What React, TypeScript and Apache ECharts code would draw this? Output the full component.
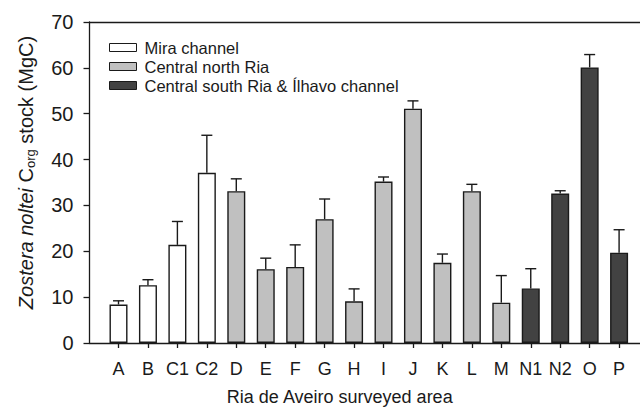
import React, { useEffect, useRef } from "react";
import * as echarts from "echarts";

const categories = ["A", "B", "C1", "C2", "D", "E", "F", "G", "H", "I", "J", "K", "L", "M", "N1", "N2", "O", "P"];
const groupOf = [0, 0, 0, 0, 1, 1, 1, 1, 1, 1, 1, 1, 1, 1, 2, 2, 2, 2];
const values = [8.4, 12.6, 21.4, 37.1, 33.1, 16.1, 16.6, 27.0, 9.1, 35.2, 51.1, 17.5, 33.1, 8.8, 11.9, 32.6, 60.1, 19.7];
const errors = [0.8, 1.2, 5.1, 8.2, 2.7, 2.4, 4.8, 4.4, 2.7, 1.0, 1.7, 1.9, 1.5, 5.9, 4.3, 0.6, 2.8, 5.0];
const groupNames = ["Mira channel", "Central north Ria", "Central south Ria & Ílhavo channel"];
const groupColors = ["#ffffff", "#c0c0c0", "#424242"];
const yTicks = [0, 10, 20, 30, 40, 50, 60, 70];

const FONT = "'Liberation Sans', Arial, sans-serif";
const INK = "#1a1a1a";

export default function App() {
  const ref = useRef<HTMLDivElement>(null);
  useEffect(() => {
    if (!ref.current) return;
    const chart = echarts.init(ref.current, null, { renderer: "svg" });
    const idx = categories.map((_, i) => i);
    const barSeries = groupNames.map((name, g) => ({
      name,
      type: "bar",
      barWidth: 18,
      barGap: "-100%",
      itemStyle: { color: groupColors[g], borderColor: INK, borderWidth: 1.4 },
      data: idx.filter((i) => groupOf[i] === g).map((i) => [i, values[i]]),
      z: 2,
    }));
    const option = {
      animation: false,
      backgroundColor: "#ffffff",
      textStyle: { fontFamily: FONT },
      grid: { left: 89.5, right: 0, top: 22, bottom: 70, containLabel: false },
      legend: {
        orient: "vertical",
        left: 104,
        top: 34,
        itemWidth: 27,
        itemHeight: 8,
        itemGap: 2,
        icon: "rect",
        data: groupNames,
        itemStyle: { borderColor: INK, borderWidth: 1 },
        textStyle: { fontFamily: FONT, fontSize: 16.5, color: INK, padding: [0, 0, 0, 3] },
      },
      xAxis: [
        {
          type: "value",
          min: -0.985,
          max: 17.71,
          position: "bottom",
          splitLine: { show: false },
          axisLine: { show: true, onZero: false, lineStyle: { color: INK, width: 1.3 } },
          axisTick: { show: true, inside: false, length: 5, customValues: idx, lineStyle: { color: INK, width: 1.3 } },
          axisLabel: {
            show: true,
            customValues: idx,
            formatter: (v: number) => categories[Math.round(v)] ?? "",
            fontFamily: FONT,
            fontSize: 18,
            color: INK,
            margin: 17,
          },
          name: "Ria de Aveiro surveyed area",
          nameLocation: "middle",
          nameGap: 45,
          nameTextStyle: { fontFamily: FONT, fontSize: 18, color: INK, padding: [0, 50, 0, 0] },
        },
        {
          type: "value",
          min: -0.985,
          max: 17.71,
          position: "top",
          splitLine: { show: false },
          axisLine: { show: true, onZero: false, lineStyle: { color: INK, width: 1.3 } },
          axisTick: { show: false },
          axisLabel: { show: false },
        },
      ],
      yAxis: {
        type: "value",
        min: 0,
        max: 70,
        interval: 10,
        splitLine: { show: false },
        axisLine: { show: true, onZero: false, lineStyle: { color: INK, width: 1.3 } },
        axisTick: { show: true, inside: false, length: 6, lineStyle: { color: INK, width: 1.3 } },
        axisLabel: {
          fontFamily: FONT,
          fontSize: 20,
          color: INK,
          margin: 16,
          customValues: yTicks,
        },
        name: "{i|Zostera noltei} C{sub|org} stock (MgC)",
        nameLocation: "middle",
        nameGap: 53,
        nameTextStyle: {
          fontFamily: FONT,
          fontSize: 20,
          color: INK,
          padding: [0, 0, 0, 20],
          rich: {
            i: { fontFamily: FONT, fontSize: 20, fontStyle: "italic", color: INK },
            sub: { fontFamily: FONT, fontSize: 13, color: INK, verticalAlign: "bottom", padding: [8, 0, 0, 0] },
          },
        },
      },
      series: [
        ...barSeries,
        {
          name: "error",
          type: "custom",
          z: 3,
          data: idx.map((i) => [i, values[i], values[i] + errors[i]]),
          renderItem: (_params: any, api: any) => {
            const x = api.value(0);
            const top = api.coord([x, api.value(1)]);
            const hi = api.coord([x, api.value(2)]);
            const half = 5.5;
            const style = { stroke: INK, lineWidth: 1.4 };
            return {
              type: "group",
              children: [
                { type: "line", shape: { x1: top[0], y1: top[1], x2: hi[0], y2: hi[1] }, style },
                { type: "line", shape: { x1: hi[0] - half, y1: hi[1], x2: hi[0] + half, y2: hi[1] }, style },
              ],
            };
          },
        },
      ],
    };
    chart.setOption(option as any);
    return () => chart.dispose();
  }, []);
  return (
    <div
      ref={ref}
      style={{ position: "fixed", left: 0, top: 0, width: 640, height: 413, background: "#fff" }}
    />
  );
}
